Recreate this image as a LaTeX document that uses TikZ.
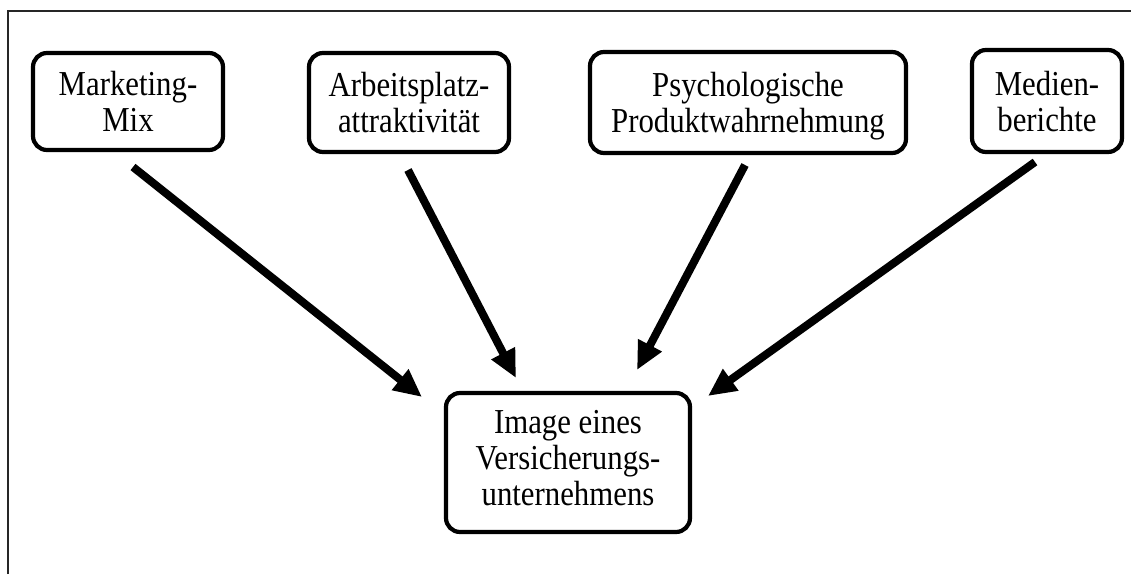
\documentclass[tikz,border=0pt]{standalone}
\usepackage{fontspec}
\setmainfont{Liberation Serif}[FakeStretch=0.88]
\usetikzlibrary{arrows.meta}
\newcommand\tstr{\rule{0pt}{17.6pt}}
\newcommand\bstr{\rule[-5.4pt]{0pt}{5.4pt}}
\tikzset{
  box/.style={draw, line width=2.1pt, rounded corners=7pt, align=center, inner sep=0pt,
    font=\fontsize{17.5}{18}\selectfont},
  bigarrow/.style={line width=4pt, -{Triangle[length=14pt,width=12.5pt]}},
  frame/.style={line width=1pt, draw=black!85}
}
\begin{document}
\begin{tikzpicture}[x=0.5pt,y=-0.5pt]
\useasboundingbox (0,0) rectangle (1131,574);
\draw[frame] (8,574) -- (8,10.5) -- (1131,10.5);
\node[box, minimum width=95pt, minimum height=48.5pt] (m) at (128,101.5) {\tstr Marketing-\\Mix\bstr};
\node[box, minimum width=100pt, minimum height=49.5pt] (a) at (409,102.5) {\tstr Arbeitsplatz-\\attraktivität\bstr};
\node[box, minimum width=158pt, minimum height=50.5pt] (p) at (748,102.5) {\tstr Psychologische\\Produktwahrnehmung\bstr};
\node[box, minimum width=75pt, minimum height=51pt] (d) at (1047,101) {\tstr Medien-\\berichte\bstr};
\node[box, minimum width=122pt, minimum height=69.5pt] (i) at (568,462.5) {\strut Image eines\\Versicherungs-\\unternehmens\bstr};
\coordinate (s1) at (133,167); \coordinate (e1) at (422,397);
\coordinate (s2) at (408,170); \coordinate (e2) at (516,378);
\coordinate (s3) at (745,165); \coordinate (e3) at (637,370);
\coordinate (s4) at (1035,162); \coordinate (e4) at (708,396);
\draw[bigarrow] (s1) -- (e1);
\draw[bigarrow] (s2) -- (e2);
\draw[bigarrow] (s3) -- (e3);
\draw[bigarrow] (s4) -- (e4);
\end{tikzpicture}
\end{document}
